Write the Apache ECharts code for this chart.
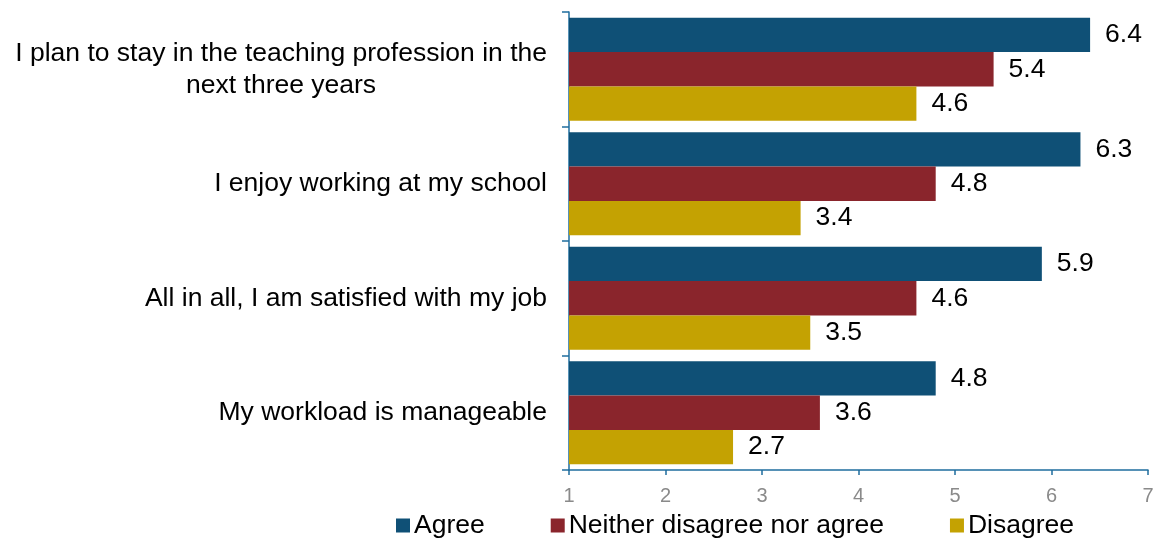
<!DOCTYPE html>
<html>
<head>
<meta charset="utf-8">
<script src="https://cdn.jsdelivr.net/npm/echarts@6/dist/echarts.min.js"></script>
<style>
  html, body { margin: 0; padding: 0; background: #ffffff; }
  #chart { width: 1158px; height: 539px; }
</style>
</head>
<body>
<div id="chart"></div>
<script>
// Survey statements, listed top to bottom
const categories = [
  'I plan to stay in the teaching profession in the\nnext three years',
  'I enjoy working at my school',
  'All in all, I am satisfied with my job',
  'My workload is manageable'
];

// Mean scores by response group
const agree = [6.4, 6.3, 5.9, 4.8];
const neither = [5.4, 4.8, 4.6, 3.6];
const disagree = [4.6, 3.4, 3.5, 2.7];

const seriesNames = ['Agree', 'Neither disagree nor agree', 'Disagree'];
const seriesColors = ['#0f5076', '#8a252c', '#c4a202'];

const axisBlue = '#1f6e9f';
const fontFamily = '"Liberation Sans", Arial, sans-serif';
const textSize = 26.5;

const chart = echarts.init(document.getElementById('chart'));

function barSeries(name, values, color) {
  return {
    name: name,
    type: 'bar',
    data: values,
    barGap: '0%',
    barCategoryGap: '10%',
    itemStyle: { color: color },
    label: {
      show: true,
      position: 'right',
      distance: 15,
      color: '#000000',
      fontFamily: fontFamily,
      fontSize: textSize,
      formatter: p => p.value.toFixed(1)
    }
  };
}

chart.setOption({
  animation: false,
  grid: { left: 569, right: 10, top: 12, bottom: 69, containLabel: false },
  legend: {
    data: seriesNames,
    left: 391,
    top: 507,
    itemWidth: 14,
    itemHeight: 14,
    itemGap: 66,
    icon: 'rect',
    textStyle: { color: '#000000', fontFamily: fontFamily, fontSize: textSize, padding: [0, 0, 0, -1] }
  },
  xAxis: {
    type: 'value',
    min: 1,
    max: 7,
    interval: 1,
    splitLine: { show: false },
    axisLine: { show: true, lineStyle: { color: axisBlue, width: 1.5 } },
    axisTick: { show: true, length: 5, lineStyle: { color: axisBlue, width: 1.5 } },
    axisLabel: { color: '#8a8a8a', fontFamily: fontFamily, fontSize: 20, margin: 16 }
  },
  yAxis: {
    type: 'category',
    inverse: true,
    data: categories,
    axisLine: { show: true, lineStyle: { color: axisBlue, width: 1.5 } },
    axisTick: { show: true, length: 7, alignWithLabel: false, lineStyle: { color: axisBlue, width: 1.5 } },
    axisLabel: {
      margin: 22,
      formatter: v => v.split('\n').map(s => '{c|' + s + '}').join('\n'),
      rich: {
        c: {
          align: 'center',
          color: '#000000',
          fontFamily: fontFamily,
          fontSize: textSize,
          lineHeight: 32
        }
      }
    }
  },
  series: [
    barSeries(seriesNames[0], agree, seriesColors[0]),
    barSeries(seriesNames[1], neither, seriesColors[1]),
    barSeries(seriesNames[2], disagree, seriesColors[2])
  ]
});
</script>
</body>
</html>
